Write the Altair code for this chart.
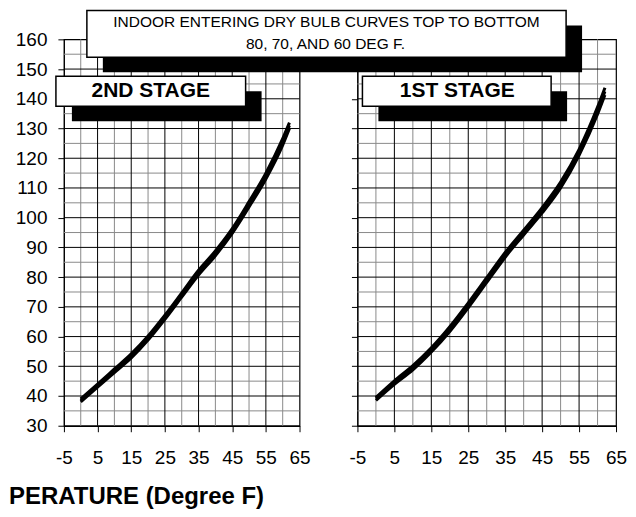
import altair as alt
import pandas as pd

# ---- data ----
x_pts = [0, 5, 10, 15, 20, 25, 30, 35, 40, 45, 50, 55, 60, 62]

# 2nd stage (left panel) - indoor entering dry bulb 80 / 70 / 60 deg F
left_80 = [39.0, 44.0, 49.1, 54.2, 60.2, 67.2, 74.7, 82.3, 88.8, 96.3, 105.4, 115.0, 126.6, 132.0]
left_70 = [38.5, 43.5, 48.5, 53.5, 59.5, 66.5, 74.0, 81.5, 88.0, 95.5, 104.5, 114.0, 125.5, 131.0]
left_60 = [38.0, 43.0, 47.9, 52.8, 58.8, 65.8, 73.3, 80.7, 87.2, 94.7, 103.6, 113.0, 124.4, 130.0]

# 1st stage (right panel)
right_80 = [39.5, 45.1, 50.2, 56.2, 63.3, 71.3, 79.8, 88.3, 95.8, 103.4, 112.0, 123.0, 137.2, 143.7]
right_70 = [39.0, 44.5, 49.5, 55.5, 62.5, 70.5, 79.0, 87.5, 95.0, 102.5, 111.0, 122.0, 136.0, 142.5]
right_60 = [38.5, 43.9, 48.8, 54.8, 61.7, 69.7, 78.2, 86.7, 94.2, 101.6, 110.0, 121.0, 134.8, 141.3]

series_names = ["80 DEG F", "70 DEG F", "60 DEG F"]

x_ticks = [-5, 5, 15, 25, 35, 45, 55, 65]
y_ticks = [30, 40, 50, 60, 70, 80, 90, 100, 110, 120, 130, 140, 150, 160]
x_major_grid = [5, 15, 25, 35, 45, 55]
x_minor_grid = [0, 10, 20, 30, 40, 50, 60]
y_major_grid = [40, 50, 60, 70, 80, 90, 100, 110, 120, 130, 140, 150]
y_minor_grid = [35, 45, 55, 65, 75, 85, 95, 105, 115, 125, 135, 145, 155]

title_lines = ["INDOOR ENTERING DRY BULB CURVES TOP TO BOTTOM", "80, 70, AND 60 DEG F."]
left_label = "2ND STAGE"
right_label = "1ST STAGE"
x_title = "PERATURE (Degree F)"

X_DOMAIN = [-5, 65]
Y_DOMAIN = [30, 160]
H = 387
W_LEFT = 236
W_RIGHT = 259

FONT = "Liberation Sans, Arial, Helvetica, sans-serif"


def curves_df(ys):
    rows = []
    for name, vals in zip(series_names, ys):
        for xv, yv in zip(x_pts, vals):
            rows.append({"x": xv, "y": yv, "series": name})
    return pd.DataFrame(rows)


def panel(ys, width, show_labels, boxes, texts):
    xscale = alt.Scale(domain=X_DOMAIN, nice=False, zero=False)
    yscale = alt.Scale(domain=Y_DOMAIN, nice=False, zero=False)
    xaxis = alt.Axis(values=x_ticks, title=None, grid=False, tickSize=6,
                     labelFontSize=19, labelFont=FONT, labelPadding=17,
                     labelExpr="'' + datum.value",
                     labelFlush=False, domainWidth=1.5)
    yaxis = alt.Axis(values=y_ticks, title=None, grid=False, tickSize=6,
                     labels=show_labels, labelFontSize=19, labelFont=FONT,
                     labelPadding=11)

    vmin = alt.Chart(pd.DataFrame({"v": x_minor_grid})).mark_rule(
        color="#8a8a8a", strokeWidth=1).encode(
        x=alt.X("v:Q", scale=xscale, axis=xaxis))
    vmaj = alt.Chart(pd.DataFrame({"v": x_major_grid})).mark_rule(
        color="black", strokeWidth=1).encode(
        x=alt.X("v:Q", scale=xscale, axis=xaxis))
    hmin = alt.Chart(pd.DataFrame({"v": y_minor_grid})).mark_rule(
        color="#8a8a8a", strokeWidth=1).encode(
        y=alt.Y("v:Q", scale=yscale, axis=yaxis))
    hmaj = alt.Chart(pd.DataFrame({"v": y_major_grid})).mark_rule(
        color="black", strokeWidth=1).encode(
        y=alt.Y("v:Q", scale=yscale, axis=yaxis))

    lines = alt.Chart(curves_df(ys)).mark_line(
        color="black", strokeWidth=3, interpolate="monotone").encode(
        x=alt.X("x:Q", scale=xscale, axis=xaxis),
        y=alt.Y("y:Q", scale=yscale, axis=yaxis),
        detail="series:N")

    layers = [vmin, hmin, vmaj, hmaj, lines]
    one = pd.DataFrame({"k": [0]})
    for (x0, x1, y0, y1) in boxes:
        # shadow
        layers.append(alt.Chart(one).mark_rect(color="black").encode(
            x=alt.value(x0 + 16), x2=alt.value(x1 + 16),
            y=alt.value(y0 + 15), y2=alt.value(y1 + 15)))
        layers.append(alt.Chart(one).mark_rect(
            fill="white", stroke="black", strokeWidth=1.5).encode(
            x=alt.value(x0), x2=alt.value(x1),
            y=alt.value(y0), y2=alt.value(y1)))
    for (txt, tx, ty, size, weight, align) in texts:
        layers.append(alt.Chart(pd.DataFrame({"t": [txt]})).mark_text(
            align=align, baseline="middle", fontSize=size, fontWeight=weight,
            font=FONT, color="black").encode(
            x=alt.value(tx), y=alt.value(ty), text="t:N"))

    return alt.layer(*layers).properties(width=width, height=H)


left = panel(
    [left_80, left_70, left_60], W_LEFT, True,
    boxes=[(-8, 182, 37, 67)],
    texts=[(left_label, 87, 52, 21, "bold", "center"),
           (x_title, -55, 458, 24, "bold", "left")])

right = panel(
    [right_80, right_70, right_60], W_RIGHT, False,
    boxes=[(5, 194, 37, 67), (-271, 209, -29, 18)],
    texts=[(right_label, 100, 52, 21, "bold", "center"),
           (title_lines[0], -31, -17, 15.5, "normal", "center"),
           (title_lines[1], -32, 5, 15.5, "normal", "center")])

chart = alt.hconcat(left, right, spacing=58, bounds="flush").properties(
    padding={"left": 0, "top": 0, "right": 0, "bottom": 0}
).configure_view(
    stroke="black", strokeWidth=1.2
).configure_axis(
    domainColor="black", tickColor="black", labelColor="black"
)

chart.save("out.html", embed_options={"renderer": "svg", "actions": False})
